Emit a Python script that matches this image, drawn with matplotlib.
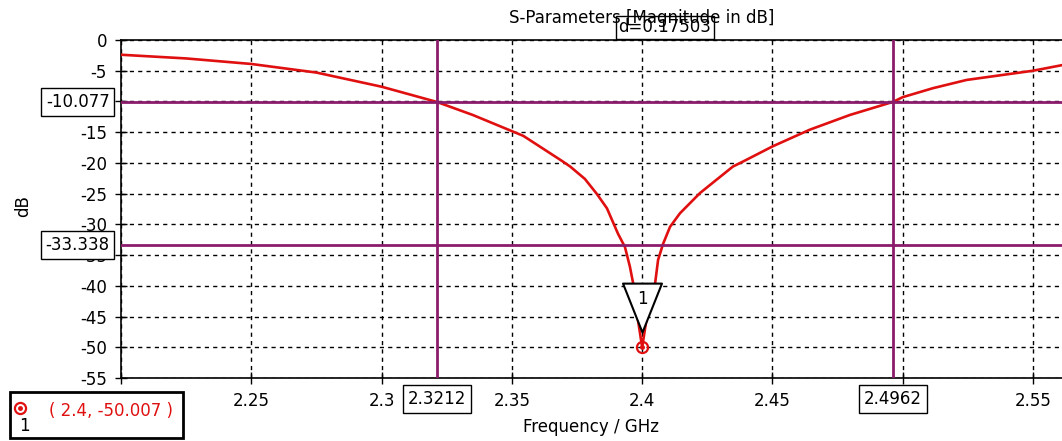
import numpy as np
import matplotlib
matplotlib.use("Agg")
import matplotlib.pyplot as plt
from matplotlib.path import Path
from matplotlib.patches import Rectangle
from matplotlib.transforms import blended_transform_factory
from matplotlib.ticker import FuncFormatter, MultipleLocator

plt.rcParams["font.family"] = "DejaVu Sans"
plt.rcParams["axes.unicode_minus"] = False

# --- S11 trace (GHz, dB) ---
freq = [2.200, 2.2125, 2.225, 2.250, 2.275, 2.300, 2.3212, 2.335, 2.3544,
        2.3693, 2.3724, 2.3780, 2.3827, 2.3865, 2.3907, 2.3934, 2.3953,
        2.3965, 2.398, 2.400, 2.402, 2.4050, 2.4061, 2.4080, 2.4107, 2.4145,
        2.4222, 2.4348, 2.4386, 2.4501, 2.4643,
        2.4797, 2.4962, 2.500, 2.5115, 2.5245, 2.550, 2.561]
s11 = [-2.4, -2.7, -3.0, -3.9, -5.3, -7.6, -10.077, -12.2, -15.6,
       -19.7, -20.6, -22.6, -25.1, -27.4, -31.5, -33.7, -36.9,
       -39.5, -44.5, -50.007, -44.5, -39.5, -35.8, -33.2, -30.4, -28.2,
       -24.9, -20.6, -19.8, -17.3, -14.6,
       -12.2, -10.077, -9.3, -7.85, -6.5, -5.0, -4.1]

# --- markers / cursors ---
marker_f, marker_db = 2.4, -50.007
h_levels = [-10.077, -33.338]
v_freqs = [2.3212, 2.4962]
delta = 0.17503

red = "#e01010"
purple = "#8b1c6c"
fs = 12

fig = plt.figure(figsize=(10.62, 4.41), dpi=100)
ax = fig.add_axes([0.1139, 0.1429, 0.8861, 0.7664])

ax.set_xlim(2.2, 2.5611)
ax.set_ylim(-55, 0)
ax.xaxis.set_major_locator(MultipleLocator(0.05))
ax.yaxis.set_major_locator(MultipleLocator(5))
ax.xaxis.set_major_formatter(FuncFormatter(lambda v, p: "%g" % round(v, 4)))
ax.yaxis.set_major_formatter(FuncFormatter(lambda v, p: "%g" % round(v, 4)))
ax.tick_params(direction="inout", length=8, width=1, labelsize=fs, pad=6)
ax.grid(True, color="black", linestyle=(0, (3, 3)), linewidth=1)
ax.spines["right"].set_visible(False)
for s in ["left", "top", "bottom"]:
    ax.spines[s].set_linewidth(1.2)

ax.plot(freq, s11, color=red, linewidth=1.9, zorder=3)

for lv in h_levels:
    ax.axhline(lv, color=purple, linewidth=2, zorder=4)
for vf in v_freqs:
    ax.axvline(vf, color=purple, linewidth=2, zorder=4)

# triangle marker label above the point (custom path relative to the point)
tri = Path([(-19.5, 64), (19.5, 64), (0, 15), (-19.5, 64)],
           [Path.MOVETO, Path.LINETO, Path.LINETO, Path.CLOSEPOLY])
ax.plot([marker_f], [marker_db], marker=tri, markersize=92, markerfacecolor="white",
        markeredgecolor="black", markeredgewidth=1.5, linestyle="none", zorder=5,
        clip_on=False)
ax.annotate("1", (marker_f, marker_db), xytext=(0, 35), textcoords="offset points",
            ha="center", va="center", fontsize=fs, zorder=6)
ax.plot([marker_f], [marker_db], marker="o", markersize=8, markerfacecolor="none",
        markeredgecolor=red, markeredgewidth=1.6, linestyle="none", zorder=6)
ax.plot([marker_f], [marker_db], marker="o", markersize=2.5, color=red,
        linestyle="none", zorder=6)

box = dict(boxstyle="square,pad=0.28", facecolor="white", edgecolor="black",
           linewidth=1)
ty = blended_transform_factory(ax.transAxes, ax.transData)
for lv in h_levels:
    ax.text(-0.012, lv, "%.3f" % lv, transform=ty, ha="right", va="center",
            fontsize=fs, bbox=box, zorder=10, clip_on=False)
tx = blended_transform_factory(ax.transData, ax.transAxes)
for vf in v_freqs:
    ax.text(vf, -0.062, "%.4f" % vf, transform=tx, ha="center", va="center",
            fontsize=fs, bbox=box, zorder=10, clip_on=False)

ax.set_xlabel("Frequency / GHz", fontsize=fs, labelpad=6)
ax.set_ylabel("dB", fontsize=fs)
ax.yaxis.set_label_coords(-0.094, 0.51)

fig.text(642 / 1062, 1 - 18 / 441, "S-Parameters [Magnitude in dB]",
         ha="center", va="center", fontsize=fs)
fig.text(665 / 1062, 1 - 27 / 441, "d=%.5f" % delta, ha="center", va="center",
         fontsize=fs, bbox=dict(boxstyle="square,pad=0.15", facecolor="none",
                                edgecolor="black", linewidth=1))

# marker readout box at bottom left
fig.patches.append(Rectangle((10 / 1062, 1 - 438 / 441), 173 / 1062, 46 / 441,
                             transform=fig.transFigure, facecolor="white",
                             edgecolor="black", linewidth=2, zorder=20))
fig.lines.append(plt.Line2D([20 / 1062], [1 - 408 / 441], transform=fig.transFigure,
                            marker="o", markersize=8, markerfacecolor="none",
                            markeredgecolor=red, markeredgewidth=1.6, zorder=21))
fig.lines.append(plt.Line2D([20 / 1062], [1 - 408 / 441], transform=fig.transFigure,
                            marker="o", markersize=2.5, color=red, zorder=21))
fig.text(24 / 1062, 1 - 426 / 441, "1", ha="center", va="center", fontsize=fs,
         zorder=21)
fig.text(111 / 1062, 1 - 411 / 441, "( %g, %.3f )" % (marker_f, marker_db),
         ha="center", va="center", fontsize=fs, color=red, zorder=21)

fig.savefig("out.png", dpi=100)
